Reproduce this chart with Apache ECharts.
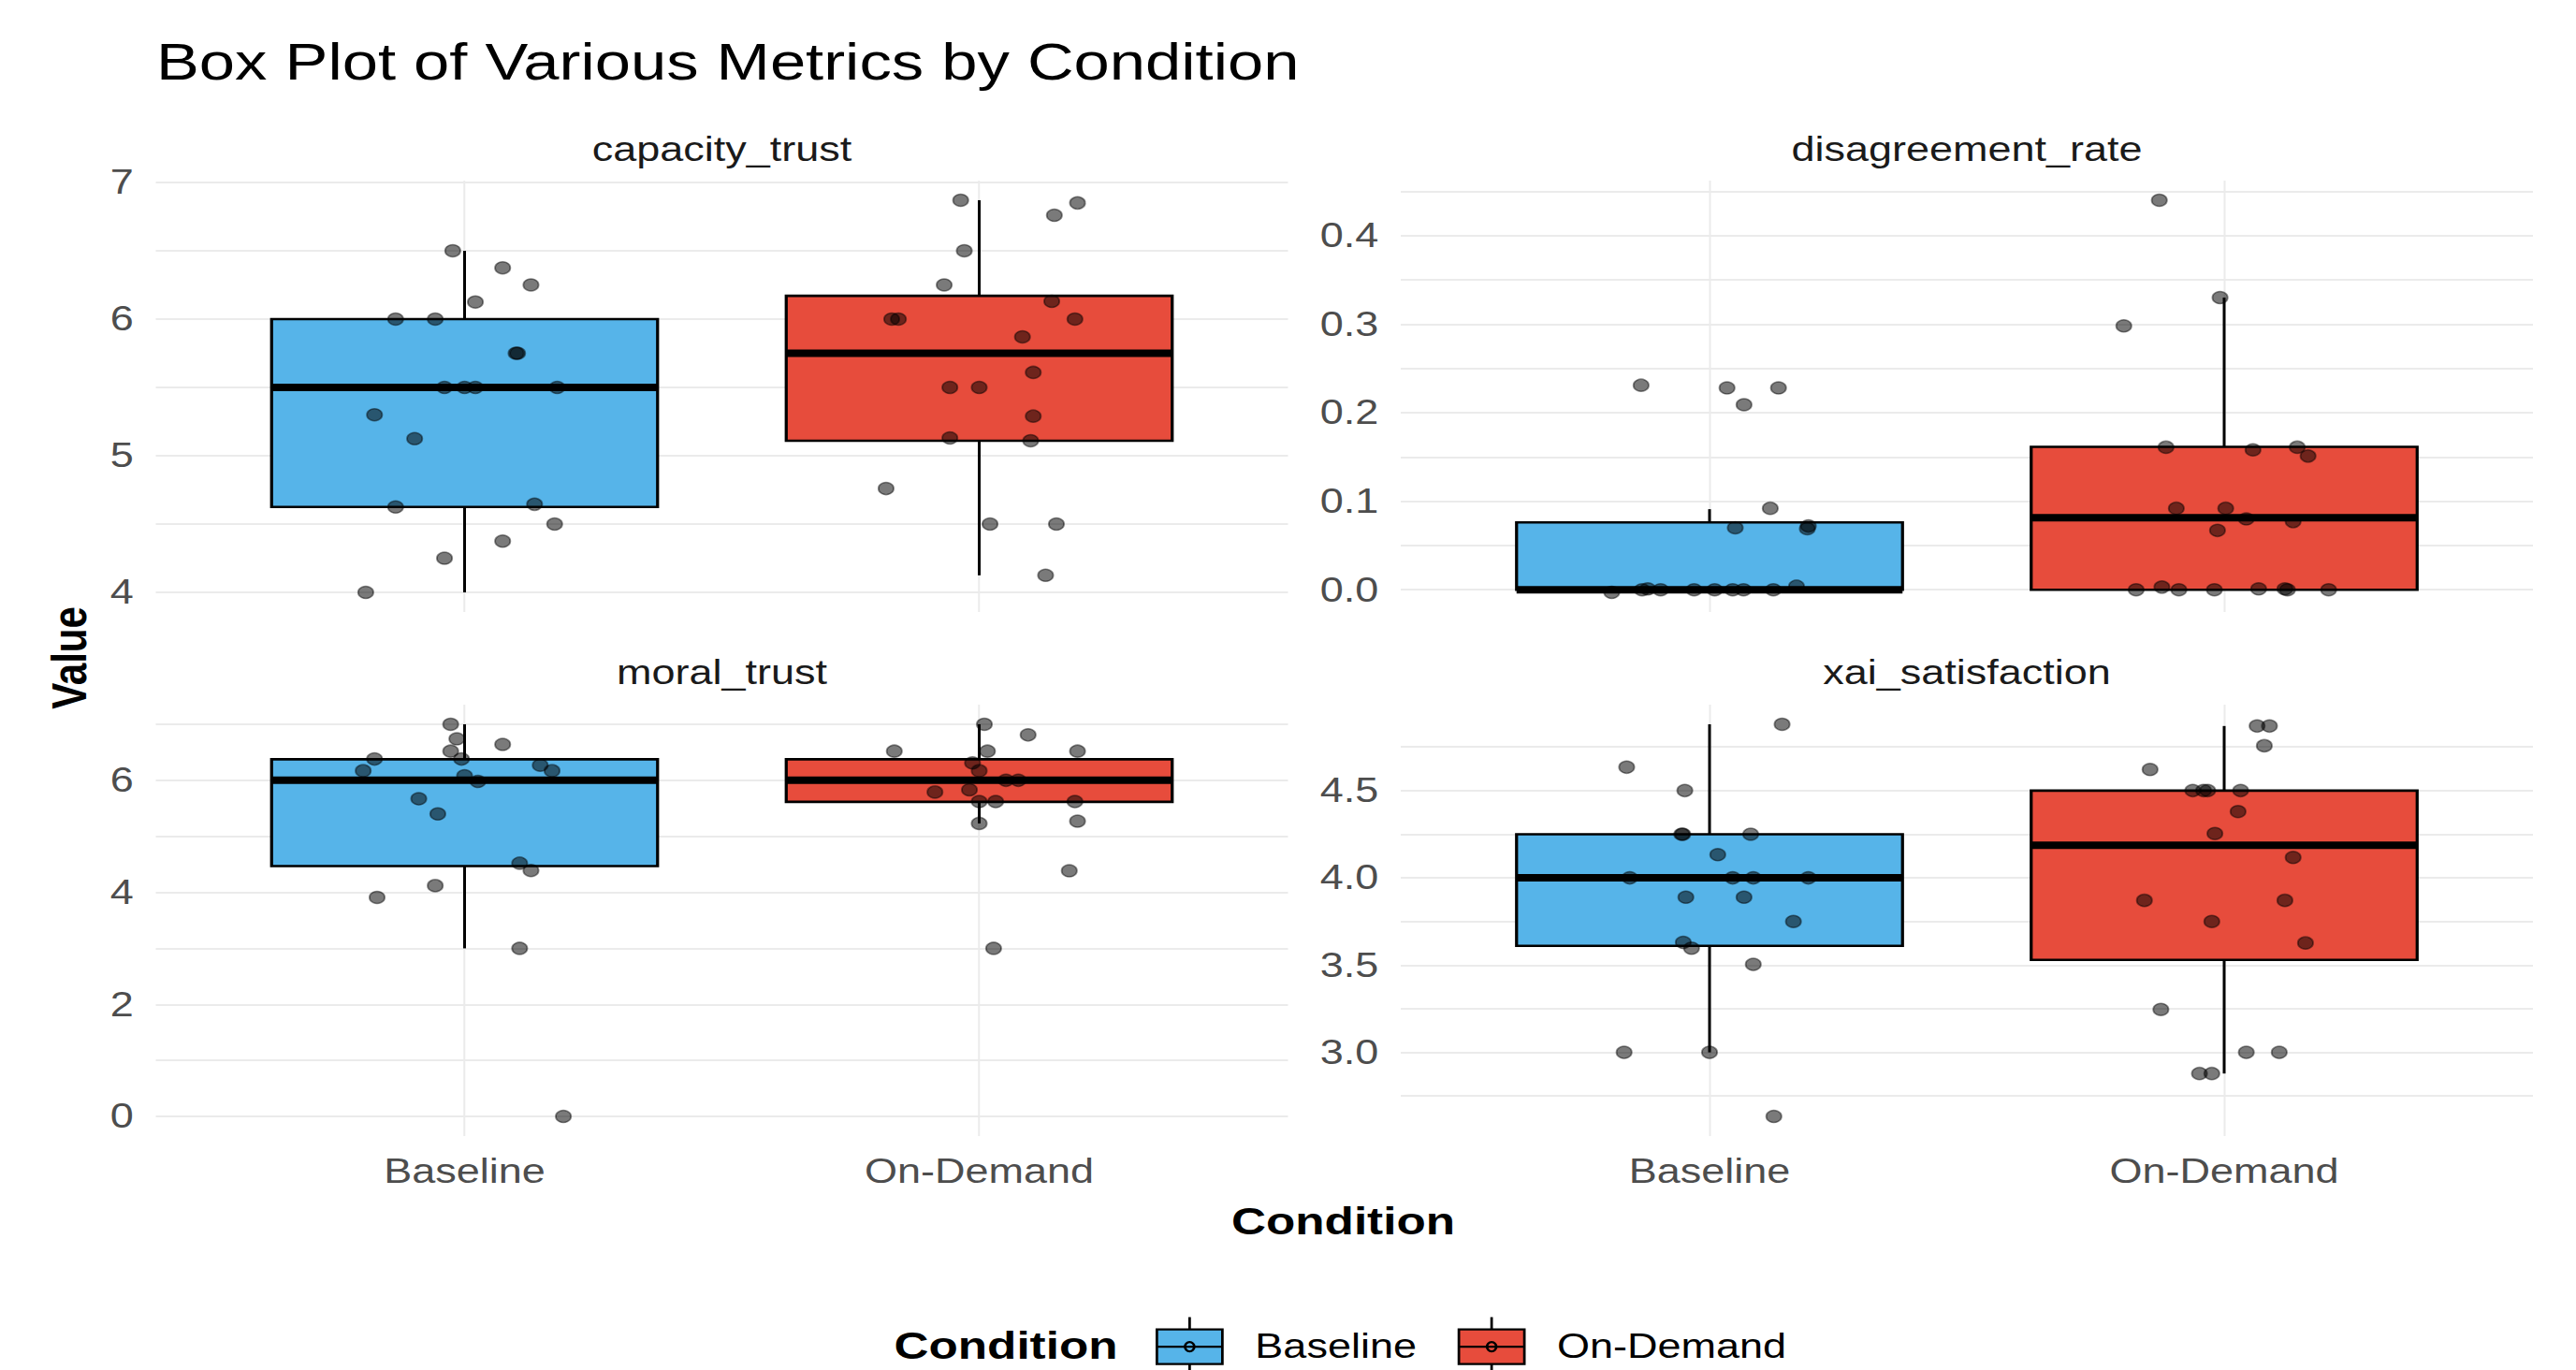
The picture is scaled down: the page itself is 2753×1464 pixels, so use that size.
<!DOCTYPE html>
<html>
<head>
<meta charset="utf-8">
<script src="https://cdn.jsdelivr.net/npm/echarts@6/dist/echarts.min.js"></script>
<style>
html,body{margin:0;padding:0;background:#fff;overflow:hidden;}
#chart{width:2202.4px;height:1464px;transform:scaleX(1.25);transform-origin:0 0;}
</style>
</head>
<body>
<div id="chart"></div>
<script>
// ---------------- DATA ----------------
const categories = ['Baseline', 'On-Demand'];
const facetNames = ['capacity_trust', 'disagreement_rate', 'moral_trust', 'xai_satisfaction'];

// box stats: [lower whisker, Q1, median, Q3, upper whisker]
const capacityBaselineBox = [4.0, 4.625, 5.5, 6.0, 6.5];
const capacityOnDemandBox = [4.125, 5.11, 5.75, 6.17, 6.87];
const disagreementBaselineBox = [0, 0, 0, 0.076, 0.091];
const disagreementOnDemandBox = [0, 0, 0.0814, 0.1614, 0.33];
const moralBaselineBox = [3.0, 4.47, 6.0, 6.375, 7.0];
const moralOnDemandBox = [5.23, 5.615, 6.0, 6.375, 7.0];
const xaiBaselineBox = [3.0, 3.61, 4.0, 4.25, 4.88];
const xaiOnDemandBox = [2.879, 3.53, 4.187, 4.5, 4.87];

// jittered points: values and horizontal jitter (category units)
const capacityBaselineValues = [6.5, 6.375, 6.25, 6.125, 6.0, 6.0, 5.75, 5.75, 5.5, 5.5, 5.5, 5.5, 5.3, 5.125, 4.625, 4.645, 4.5, 4.375, 4.25, 4.0];
const capacityBaselineJitter = [-0.023, 0.074, 0.129, 0.021, -0.134, -0.057, 0.103, 0.100, -0.039, 0.0, 0.021, 0.180, -0.175, -0.097, -0.134, 0.136, 0.175, 0.074, -0.039, -0.192];
const capacityOnDemandValues = [6.87, 6.85, 6.76, 6.5, 6.25, 6.13, 6.0, 6.0, 6.0, 5.87, 5.61, 5.5, 5.5, 5.29, 5.13, 5.11, 4.76, 4.5, 4.5, 4.125];
const capacityOnDemandJitter = [-0.036, 0.191, 0.146, -0.029, -0.068, 0.141, -0.170, -0.157, 0.186, 0.084, 0.105, -0.057, 0.0, 0.105, -0.057, 0.100, -0.181, 0.021, 0.150, 0.129];

const disagreementBaselineValues = [0.231, 0.228, 0.228, 0.209, 0.092, 0.070, 0.072, 0.069, -0.003, 0, 0.001, 0, 0, 0, 0, 0, 0, 0.004];
const disagreementBaselineJitter = [-0.133, 0.034, 0.134, 0.067, 0.118, 0.050, 0.192, 0.190, -0.190, -0.131, -0.120, -0.095, -0.030, 0.010, 0.045, 0.066, 0.124, 0.169];
const disagreementOnDemandValues = [0.44, 0.33, 0.298, 0.161, 0.158, 0.161, 0.151, 0.092, 0.092, 0.080, 0.077, 0.067, 0, 0.003, 0, 0, 0.001, 0.001, 0, 0];
const disagreementOnDemandJitter = [-0.126, -0.008, -0.195, -0.113, 0.056, 0.142, 0.163, -0.093, 0.003, 0.043, 0.134, -0.013, -0.171, -0.121, -0.088, -0.019, 0.067, 0.118, 0.123, 0.203];

const moralBaselineValues = [7.0, 6.74, 6.64, 6.52, 6.38, 6.38, 6.17, 6.27, 6.17, 6.08, 5.98, 5.67, 5.40, 4.52, 4.39, 4.12, 3.91, 3.0, 0.0];
const moralBaselineJitter = [-0.027, -0.015, 0.074, -0.027, -0.006, -0.175, -0.197, 0.147, 0.170, 0.0, 0.026, -0.089, -0.052, 0.107, 0.129, -0.057, -0.170, 0.107, 0.192];
const moralOnDemandValues = [7.0, 6.81, 6.52, 6.52, 6.52, 6.31, 6.17, 6.0, 6.0, 5.83, 5.79, 5.62, 5.62, 5.62, 5.23, 5.27, 4.385, 3.0];
const moralOnDemandJitter = [0.010, 0.095, -0.165, 0.016, 0.191, -0.013, 0.0, 0.052, 0.076, -0.019, -0.086, 0.0, 0.032, 0.186, 0.0, 0.191, 0.175, 0.028];

const xaiBaselineValues = [4.88, 4.634, 4.5, 4.25, 4.25, 4.25, 4.133, 4.0, 4.0, 4.0, 4.0, 3.889, 3.889, 3.75, 3.63, 3.597, 3.504, 3.0, 3.0, 2.633];
const xaiBaselineJitter = [0.141, -0.161, -0.048, -0.054, -0.052, 0.080, 0.016, -0.155, 0.045, 0.085, 0.192, -0.046, 0.067, 0.163, -0.051, -0.035, 0.085, -0.166, 0.0, 0.125];
const xaiOnDemandValues = [4.87, 4.87, 4.757, 4.621, 4.5, 4.5, 4.5, 4.5, 4.38, 4.254, 4.117, 3.871, 3.871, 3.75, 3.627, 3.246, 3.0, 3.0, 2.879, 2.879];
const xaiOnDemandJitter = [0.064, 0.088, 0.078, -0.144, -0.061, -0.040, -0.032, 0.032, 0.027, -0.018, 0.134, -0.155, 0.118, -0.024, 0.158, -0.123, 0.043, 0.107, -0.048, -0.024];

// tick labels and minor grid values
const capacityTicks = [4, 5, 6, 7];
const capacityMinor = [4.5, 5.5, 6.5];
const disagreementTicks = [0, 0.1, 0.2, 0.3, 0.4];
const disagreementMinor = [0.05, 0.15, 0.25, 0.35, 0.45];
const moralTicks = [0, 2, 4, 6];
const moralMinor = [1, 3, 5, 7];
const xaiTicks = [3.0, 3.5, 4.0, 4.5];
const xaiMinor = [2.75, 3.25, 3.75, 4.25, 4.75];

// ---------------- STYLE / LAYOUT ----------------
const FONT = '"Liberation Sans", Arial, Helvetica, sans-serif';
const COLORS = {'Baseline': '#56B4E9', 'On-Demand': '#E74C3C'};
const GRID_COLOR = '#EBEBEB';
const BOX_WIDTH = 0.75;

const panels = [
  {name: facetNames[0], boxes: [capacityBaselineBox, capacityOnDemandBox],
   pts: [[capacityBaselineValues, capacityBaselineJitter], [capacityOnDemandValues, capacityOnDemandJitter]],
   ticks: capacityTicks, minor: capacityMinor, dec: 0,
   grid: {left: 133.2, top: 193, width: 968, height: 461}, bottom: false},
  {name: facetNames[1], boxes: [disagreementBaselineBox, disagreementOnDemandBox],
   pts: [[disagreementBaselineValues, disagreementBaselineJitter], [disagreementOnDemandValues, disagreementOnDemandJitter]],
   ticks: disagreementTicks, minor: disagreementMinor, dec: 1,
   grid: {left: 1197.6, top: 193, width: 968, height: 461}, bottom: false},
  {name: facetNames[2], boxes: [moralBaselineBox, moralOnDemandBox],
   pts: [[moralBaselineValues, moralBaselineJitter], [moralOnDemandValues, moralOnDemandJitter]],
   ticks: moralTicks, minor: moralMinor, dec: 0,
   grid: {left: 133.2, top: 753, width: 968, height: 461}, bottom: true},
  {name: facetNames[3], boxes: [xaiBaselineBox, xaiOnDemandBox],
   pts: [[xaiBaselineValues, xaiBaselineJitter], [xaiOnDemandValues, xaiOnDemandJitter]],
   ticks: xaiTicks, minor: xaiMinor, dec: 1,
   grid: {left: 1197.6, top: 753, width: 968, height: 461}, bottom: true}
];

function paddedRange(p) {
  let all = [];
  p.boxes.forEach(b => { all = all.concat(b); });
  p.pts.forEach(pr => { all = all.concat(pr[0]); });
  const mn = Math.min.apply(null, all), mx = Math.max.apply(null, all);
  const pad = (mx - mn) * 0.05;
  return [mn - pad, mx + pad];
}

function renderBox(params, api) {
  const xi = api.value(0);
  const lo = api.coord([xi, api.value(1)]);
  const q1 = api.coord([xi, api.value(2)]);
  const med = api.coord([xi, api.value(3)]);
  const q3 = api.coord([xi, api.value(4)]);
  const hi = api.coord([xi, api.value(5)]);
  const half = api.size([BOX_WIDTH, 0])[0] / 2;
  const cx = q1[0];
  const fill = COLORS[categories[xi - 1]];
  return {
    type: 'group',
    children: [
      {type: 'line', shape: {x1: cx, y1: hi[1], x2: cx, y2: q3[1]}, style: {stroke: '#000', lineWidth: 2.4}},
      {type: 'line', shape: {x1: cx, y1: q1[1], x2: cx, y2: lo[1]}, style: {stroke: '#000', lineWidth: 2.4}},
      {type: 'rect', shape: {x: cx - half, y: q3[1], width: half * 2, height: q1[1] - q3[1]},
       style: {fill: fill, stroke: '#000', lineWidth: 2.6}},
      {type: 'line', shape: {x1: cx - half, y1: med[1], x2: cx + half, y2: med[1]}, style: {stroke: '#000', lineWidth: 8}}
    ]
  };
}

const grids = [], xAxes = [], yAxes = [], series = [];
const titles = [
  {text: 'Box Plot of Various Metrics by Condition', left: 133.6, top: 66, padding: 0,
   textAlign: 'left', textVerticalAlign: 'middle',
   textStyle: {fontFamily: FONT, fontSize: 55, fontWeight: 'normal', color: '#000'}}
];

panels.forEach((p, i) => {
  grids.push(Object.assign({containLabel: false}, p.grid));
  titles.push({text: p.name, left: p.grid.left + p.grid.width / 2, top: i < 2 ? 160 : 719, padding: 0,
    textAlign: 'center', textVerticalAlign: 'middle',
    textStyle: {fontFamily: FONT, fontSize: 36, fontWeight: 'normal', color: '#1A1A1A'}});
  xAxes.push({
    gridIndex: i, type: 'value', min: 0.4, max: 2.6,
    axisLine: {show: false},
    axisTick: {show: false, customValues: [1, 2]},
    axisLabel: {show: p.bottom, customValues: [1, 2], margin: 20,
      formatter: v => categories[Math.round(v) - 1],
      fontFamily: FONT, fontSize: 36, color: '#4D4D4D'},
    splitLine: {show: true, lineStyle: {color: GRID_COLOR, width: 1.6}}
  });
  const r = paddedRange(p);
  yAxes.push({
    gridIndex: i, type: 'value', min: r[0], max: r[1],
    axisLine: {show: false},
    axisTick: {show: false, customValues: p.ticks.concat(p.minor)},
    axisLabel: {customValues: p.ticks, margin: 19,
      formatter: v => Number(v).toFixed(p.dec),
      fontFamily: FONT, fontSize: 36, color: '#4D4D4D'},
    splitLine: {show: true, lineStyle: {color: GRID_COLOR, width: 2}}
  });
  categories.forEach((c, k) => {
    series.push({
      name: c, type: 'custom', xAxisIndex: i, yAxisIndex: i,
      itemStyle: {color: COLORS[c]},
      renderItem: renderBox,
      encode: {x: 0, y: [1, 2, 3, 4, 5]},
      data: [[k + 1].concat(p.boxes[k])],
      z: 2, silent: true
    });
  });
  const ptsData = [];
  p.pts.forEach((pr, k) => {
    pr[0].forEach((v, j) => { ptsData.push([k + 1 + pr[1][j], v]); });
  });
  series.push({
    name: 'points', type: 'scatter', xAxisIndex: i, yAxisIndex: i,
    symbol: 'circle', symbolSize: 13,
    itemStyle: {color: 'rgba(0,0,0,0.52)', borderColor: 'rgba(0,0,0,0.45)', borderWidth: 1.5, opacity: 1},
    data: ptsData, z: 5, silent: true
  });
});

titles.push({text: 'Condition', left: 1148.4, top: 1305, padding: 0, textAlign: 'center', textVerticalAlign: 'middle',
  textStyle: {fontFamily: FONT, fontSize: 41, fontWeight: 'bold', color: '#000'}});
titles.push({text: 'Condition', left: 860, top: 1438, padding: 0, textAlign: 'center', textVerticalAlign: 'middle',
  textStyle: {fontFamily: FONT, fontSize: 41, fontWeight: 'bold', color: '#000'}});

const LEGEND_ICON = 'path://M0,13L70,13L70,50L0,50Z M0,31.5L70,31.5 M35,0L35,13 M35,50L35,63 M40,31.5A5,5,0,1,1,30,31.5A5,5,0,1,1,40,31.5Z';

const option = {
  backgroundColor: '#ffffff',
  animation: false,
  title: titles,
  grid: grids,
  xAxis: xAxes,
  yAxis: yAxes,
  series: series,
  legend: {
    data: categories.map(c => ({name: c})),
    left: 988, top: 1406.5, padding: 0, orient: 'horizontal',
    itemWidth: 56, itemHeight: 63, itemGap: 35,
    icon: LEGEND_ICON, symbolKeepAspect: false, selectedMode: false,
    itemStyle: {borderColor: '#000', borderWidth: 2.2},
    textStyle: {fontFamily: FONT, fontSize: 36, color: '#000', padding: [0, 0, 0, 23]}
  },
  graphic: [
    {type: 'text', x: 59.2, y: 703, rotation: Math.PI / 2,
     style: {text: 'Value', fontFamily: FONT, fontSize: 42, fontWeight: 'bold', fill: '#000', align: 'center', verticalAlign: 'middle'}}
  ]
};

const chart = echarts.init(document.getElementById('chart'), null, {renderer: 'svg'});
chart.setOption(option);
</script>
</body>
</html>
